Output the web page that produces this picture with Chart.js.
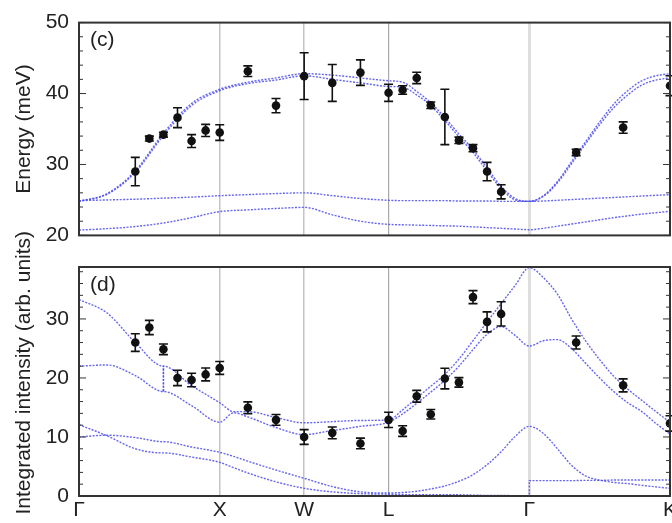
<!DOCTYPE html>
<html>
<head>
<meta charset="utf-8">
<script src="https://cdn.jsdelivr.net/npm/chart.js@4.4.1/dist/chart.umd.min.js"></script>
<style>
  html, body { margin: 0; padding: 0; background: #fff; overflow: hidden; }
  #wrap { position: relative; width: 672px; height: 523px; overflow: hidden; }
  canvas { position: absolute; left: 0; }
  #energyChart { top: 0; width: 700px; height: 258px; }
  #intensityChart { top: 190px; width: 700px; height: 333px; }
</style>
</head>
<body>
<div id="wrap">
  <canvas id="energyChart" width="700" height="258"></canvas>
  <canvas id="intensityChart" width="700" height="333"></canvas>
</div>
<script>
// path through the zone: symmetry points
const kTicks = [0, 1, 1.6, 2.2, 3.2, 4.2]
const kLabels = ["Γ", "X", "W", "L", "Γ", "K"]

// measured points (same k for both panels)
const kData = [0.4, 0.5, 0.6, 0.7, 0.8, 0.9, 1.0, 1.2, 1.4, 1.6, 1.8, 2.0, 2.2, 2.3, 2.4, 2.5, 2.6, 2.7, 2.8, 2.9, 3.0, 3.533, 3.867, 4.2]
const energy = [29.0, 33.65, 34.2, 36.6, 33.3, 34.8, 34.5, 43.15, 38.3, 42.45, 41.5, 42.95, 40.1, 40.5, 42.2, 38.35, 36.7, 33.4, 32.3, 29.0, 26.15, 31.7, 35.2, 41.1]
const energyErr = [2.0, 0.35, 0.35, 1.4, 0.9, 0.85, 1.1, 0.75, 1.0, 3.3, 2.6, 1.8, 1.2, 0.6, 0.8, 0.45, 3.9, 0.45, 0.5, 1.3, 1.0, 0.45, 0.8, 1.4]
const intensity = [26.0, 28.55, 24.85, 20.0, 19.65, 20.6, 21.7, 14.95, 12.9, 10.0, 10.7, 8.9, 12.9, 11.0, 16.9, 13.85, 19.9, 19.25, 33.7, 29.5, 30.85, 26.0, 18.75, 12.3]
const intensityErr = [1.5, 1.2, 0.9, 1.3, 1.15, 1.1, 1.1, 1.0, 0.9, 1.25, 1.0, 0.9, 1.3, 0.9, 1.0, 0.8, 1.75, 0.8, 1.1, 1.7, 2.05, 1.1, 1.1, 1.3]

// calculated dispersion, panel (c)
const kGrid = [0, 0.2, 0.4, 0.6, 0.8, 1.0, 1.2, 1.4, 1.6, 1.8, 2.0, 2.2, 2.3, 2.4, 2.5, 2.6, 2.7, 2.8, 2.9, 3.0, 3.1, 3.2, 3.3, 3.4, 3.5, 3.6, 3.7, 3.8, 3.9, 4.0, 4.1, 4.2]
const eBranch1 = [24.8, 25.9, 29.1, 34.4, 38.6, 40.6, 41.6, 42.2, 42.8, 42.6, 42.2, 41.8, 41.6, 40.3, 38.7, 36.6, 34.3, 32.1, 29.5, 26.9, 25.2, 24.8, 25.6, 27.6, 30.4, 33.2, 36.0, 38.5, 40.4, 41.8, 42.5, 42.8]
const eBranch2 = [24.8, 25.8, 28.9, 34.1, 38.3, 40.4, 41.4, 41.9, 42.5, 42.0, 41.5, 41.0, 40.9, 39.8, 38.3, 36.2, 33.9, 31.7, 29.1, 26.6, 25.0, 24.8, 25.5, 27.4, 30.1, 32.9, 35.6, 38.0, 39.8, 41.2, 41.9, 42.2]
const eMid = [24.9, 25.0, 25.1, 25.25, 25.4, 25.6, 25.75, 25.9, 26.0, 25.6, 25.2, 24.95, 24.9, 24.9, 24.9, 24.9, 24.85, 24.85, 24.85, 24.8, 24.8, 24.8, 24.85, 24.95, 25.05, 25.15, 25.25, 25.35, 25.45, 25.55, 25.65, 25.75]
const eLow = [20.75, 20.95, 21.25, 21.75, 22.5, 23.35, 23.6, 23.8, 23.95, 22.9, 22.0, 21.55, 21.5, 21.45, 21.4, 21.35, 21.3, 21.2, 21.1, 21.0, 20.9, 20.8, 21.0, 21.3, 21.6, 21.9, 22.2, 22.5, 22.75, 23.0, 23.2, 23.4]

// calculated intensities, panel (d) (k repeated where the curves jump)
const kD = [0, 0.2, 0.4, 0.6, 0.6, 0.8, 1.0, 1.1, 1.2, 1.4, 1.6, 1.8, 2.0, 2.2, 2.3, 2.4, 2.5, 2.6, 2.7, 2.8, 2.9, 3.0, 3.1, 3.2, 3.2, 3.3, 3.4, 3.5, 3.6, 3.7, 3.8, 3.9, 4.0, 4.1, 4.2]
const iCurveA = [33.3, 31.0, 26.0, 22.0, 17.7, 15.3, 12.5, 14.1, 13.4, 11.6, 10.4, 11.1, 11.8, 12.5, 13.9, 15.7, 17.6, 19.6, 22.0, 24.8, 27.4, 28.7, 27.2, 25.4, 25.4, 26.3, 26.5, 25.0, 22.5, 20.0, 17.7, 15.8, 14.3, 12.3, 10.5]
const iCurveB = [22.0, 22.2, 20.4, 17.7, 22.0, 18.7, 15.8, 14.3, 14.3, 13.3, 12.4, 12.6, 12.8, 12.9, 14.6, 16.6, 18.6, 20.6, 23.2, 26.3, 29.5, 32.6, 35.7, 38.7, 38.7, 37.0, 34.2, 30.0, 26.3, 23.1, 20.3, 18.1, 16.2, 14.3, 12.5]
const iCurveC = [12.1, 10.2, 8.0, 7.3, 7.3, 6.6, 5.7, 4.8, 3.9, 2.4, 1.3, 0.7, 0.4, 0.3, 0.25, 0.2, 0.2, 0.2, 0.2, 0.15, 0.1, 0.1, 0.05, 0.0, 2.6, 2.6, 2.6, 2.6, 2.65, 2.65, 2.7, 2.7, 2.7, 2.7, 2.7]
const iCurveD = [10.0, 10.3, 9.9, 9.2, 9.2, 8.3, 7.4, 6.7, 5.9, 4.4, 3.0, 1.6, 0.7, 0.5, 0.6, 0.8, 1.2, 1.7, 2.5, 3.6, 5.3, 7.5, 10.1, 11.8, 11.8, 10.6, 8.0, 5.2, 3.4, 2.7, 2.3, 2.1, 1.8, 1.55, 1.3]

const eTicks = [20, 30, 40, 50]
const iTicks = [0, 10, 20, 30]

Chart.defaults.font.family = "'Liberation Sans', Arial, sans-serif"
Chart.defaults.color = "#222"

const FONT = { size: 21 }
const lineBlue = "rgba(75, 75, 238, 0.85)"
const gridColors = ["rgba(0,0,0,0)", "#c4c4c4", "#c4c4c4", "#a8a8a8", "#dedede", "rgba(0,0,0,0)"]
const gridWidths = [1, 1.5, 1.5, 1.2, 3, 1]

function toPoints(ks, vals) {
    return ks.map((k, i) => ({ x: k, y: vals[i] }))
}

function curve(ks, vals) {
    return {
        data: toPoints(ks, vals),
        borderColor: lineBlue,
        borderWidth: 1.4,
        borderDash: [2, 1.4],
        pointRadius: 0,
        cubicInterpolationMode: "monotone",
        fill: false
    }
}

// error bars, frame, inward ticks and panel letter
function overlay(vals, errs, letter, minorStep) {

    return {
        id: "overlay",
        afterDatasetsDraw(chart) {
            const { ctx, scales } = chart
            ctx.save()
            ctx.strokeStyle = "#111"
            ctx.lineWidth = 1.6
            vals.forEach((v, i) => {
                const px = scales.x.getPixelForValue(kData[i])
                const y1 = scales.y.getPixelForValue(v - errs[i])
                const y2 = scales.y.getPixelForValue(v + errs[i])
                ctx.beginPath()
                ctx.moveTo(px, y1); ctx.lineTo(px, y2)
                ctx.moveTo(px - 4.5, y1); ctx.lineTo(px + 4.5, y1)
                ctx.moveTo(px - 4.5, y2); ctx.lineTo(px + 4.5, y2)
                ctx.stroke()
            })
            ctx.restore()
        },
        afterDraw(chart) {
            const { ctx, chartArea: a, scales } = chart
            const y = scales.y
            ctx.save()
            ctx.strokeStyle = "#333"
            ctx.lineWidth = 1
            for (let v = y.min; v <= y.max + 1e-6; v += minorStep) {
                const py = y.getPixelForValue(v)
                const len = (Math.round(v) % 10 === 0) ? 7 : 4
                ctx.beginPath()
                ctx.moveTo(a.left, py); ctx.lineTo(a.left + len, py)
                ctx.moveTo(a.right, py); ctx.lineTo(a.right - len, py)
                ctx.stroke()
            }
            ctx.lineWidth = 2
            ctx.strokeRect(a.left, a.top, a.right - a.left, a.bottom - a.top)
            ctx.fillStyle = "#222"
            ctx.font = "21px 'Liberation Sans', Arial, sans-serif"
            ctx.textBaseline = "middle"
            ctx.fillText(letter, a.left + 11, a.top + 18)
            ctx.restore()
        }
    }
}

function makePanel(id, cfg) {

    const datasets = [{
        data: toPoints(kData, cfg.vals),
        showLine: false,
        pointRadius: 4.3,
        pointBackgroundColor: "#111",
        pointBorderWidth: 0
    }].concat(cfg.curves)

    return new Chart(document.getElementById(id), {

        type: "line",

        data: { datasets: datasets },

        options: {
            responsive: false,
            animation: false,
            layout: { padding: cfg.padding },
            plugins: { legend: { display: false }, tooltip: { enabled: false } },
            scales: {
                x: {
                    type: "linear",
                    min: 0,
                    max: 4.2,
                    afterBuildTicks: s => { s.ticks = kTicks.map(v => ({ value: v })) },
                    afterFit: s => { s.height = cfg.xHeight },
                    border: { display: false },
                    grid: {
                        drawTicks: false,
                        color: c => gridColors[c.index],
                        lineWidth: c => gridWidths[c.index]
                    },
                    ticks: {
                        display: cfg.showX,
                        autoSkip: false,
                        maxRotation: 0,
                        padding: 2,
                        font: FONT,
                        callback: (v, i) => kLabels[i]
                    }
                },
                y: {
                    min: cfg.min,
                    max: cfg.max,
                    afterBuildTicks: s => { s.ticks = cfg.ticks.map(v => ({ value: v })) },
                    afterFit: s => { s.width = 79 },
                    border: { display: false },
                    grid: { display: false, drawTicks: false },
                    ticks: { font: FONT, padding: 10 },
                    title: {
                        display: true,
                        text: cfg.title,
                        font: FONT,
                        padding: { top: 12, bottom: 0 }
                    }
                }
            }
        },

        plugins: [overlay(cfg.vals, cfg.errs, cfg.letter, 2)]

    })

}

makePanel("energyChart", {
    vals: energy,
    errs: energyErr,
    letter: "(c)",
    min: 20,
    max: 50,
    ticks: eTicks,
    title: "Energy (meV)",
    showX: false,
    xHeight: 0,
    padding: { left: 0, top: 17, right: 30, bottom: 8 },
    curves: [
        curve(kGrid, eBranch1),
        curve(kGrid, eBranch2),
        curve(kGrid, eMid),
        curve(kGrid, eLow)
    ]
})

makePanel("intensityChart", {
    vals: intensity,
    errs: intensityErr,
    letter: "(d)",
    min: 0,
    max: 38.8,
    ticks: iTicks,
    title: "   Integrated intensity (arb. units)",
    showX: true,
    xHeight: 27,
    padding: { left: 0, top: 77, right: 30, bottom: 0 },
    curves: [
        curve(kD, iCurveA),
        curve(kD, iCurveB),
        curve(kD, iCurveC),
        curve(kD, iCurveD)
    ]
})
</script>
</body>
</html>
